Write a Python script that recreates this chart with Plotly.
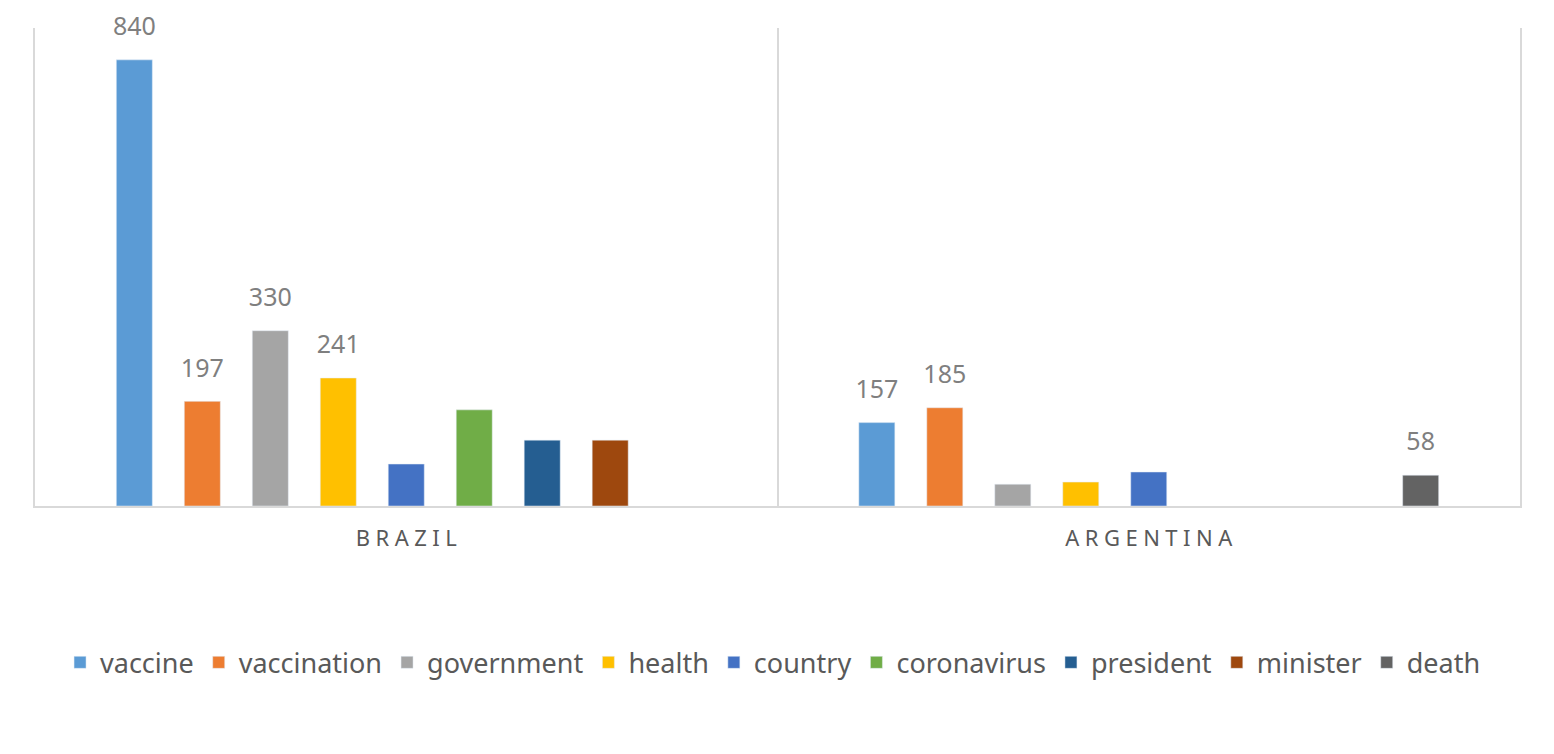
import plotly.graph_objects as go

categories = ["BRAZIL", "ARGENTINA"]
sp = "\u2005"
tick_labels = [sp.join("BRAZIL"), sp.join("ARGENTINA")]

series_names = ["vaccine", "vaccination", "government", "health", "country",
                "coronavirus", "president", "minister", "death"]
vaccine = [840, 157]
vaccination = [197, 185]
government = [330, 41]
health = [241, 45]
country = [79, 64]
coronavirus = [181, None]
president = [124, None]
minister = [124, None]
death = [None, 58]
series_values = [vaccine, vaccination, government, health, country,
                 coronavirus, president, minister, death]
# which values carry a data label
labelled = [[True, True], [True, True], [True, False], [True, False], [False, False],
            [False, False], [False, False], [False, False], [False, True]]

colors = ["#5B9BD5", "#ED7D31", "#A5A5A5", "#FFC000", "#4472C4",
          "#70AD47", "#255E91", "#9E480E", "#636363"]

FONT = "Noto Sans"
GAP = 0.176

fig = go.Figure()
for i, (name, vals, col) in enumerate(zip(series_names, series_values, colors)):
    fig.add_trace(go.Bar(
        name=name, x=categories, y=vals, marker_color=col,
        offsetgroup=str(i), hoverinfo="x+y+name",
    ))
# data labels, positioned in the same group slots as the bars
for i, (name, vals, lab) in enumerate(zip(series_names, series_values, labelled)):
    texts = [(str(v) if (l and v is not None) else "") for v, l in zip(vals, lab)]
    fig.add_trace(go.Scatter(
        x=categories, y=vals, mode="text+markers", text=texts,
        textposition="top center", offsetgroup=str(i),
        marker=dict(size=28, opacity=0),
        textfont=dict(family=FONT, size=25, color="#7F7F7F"),
        showlegend=False, hoverinfo="skip", cliponaxis=False,
    ))

fig.update_layout(
    width=1554, height=754,
    margin=dict(l=27, r=42, t=20, b=256, autoexpand=False),
    paper_bgcolor="white", plot_bgcolor="white",
    barmode="group", bargap=GAP, bargroupgap=0.47,
    scattermode="group", scattergap=GAP,
    font=dict(family=FONT, color="#595959"),
    showlegend=True,
    legend=dict(orientation="h", x=0.497, xanchor="center", y=-0.328, yanchor="middle",
                font=dict(family=FONT, size=27, color="#595959"),
                itemwidth=30, tracegroupgap=0),
)
fig.update_xaxes(
    tickmode="array", tickvals=categories, ticktext=tick_labels,
    tickson="boundaries", ticks="", showgrid=True, gridcolor="#D9D9D9", gridwidth=1.5,
    showline=True, linecolor="#D9D9D9", linewidth=1.5,
    tickfont=dict(family=FONT, size=22, color="#595959"),
    ticklabelstandoff=12,
)
fig.update_yaxes(range=[0, 900], showgrid=False, showticklabels=False,
                 zeroline=False, showline=True, mirror=True,
                 linecolor="#D9D9D9", linewidth=1.5)

fig.write_html("out.html")
